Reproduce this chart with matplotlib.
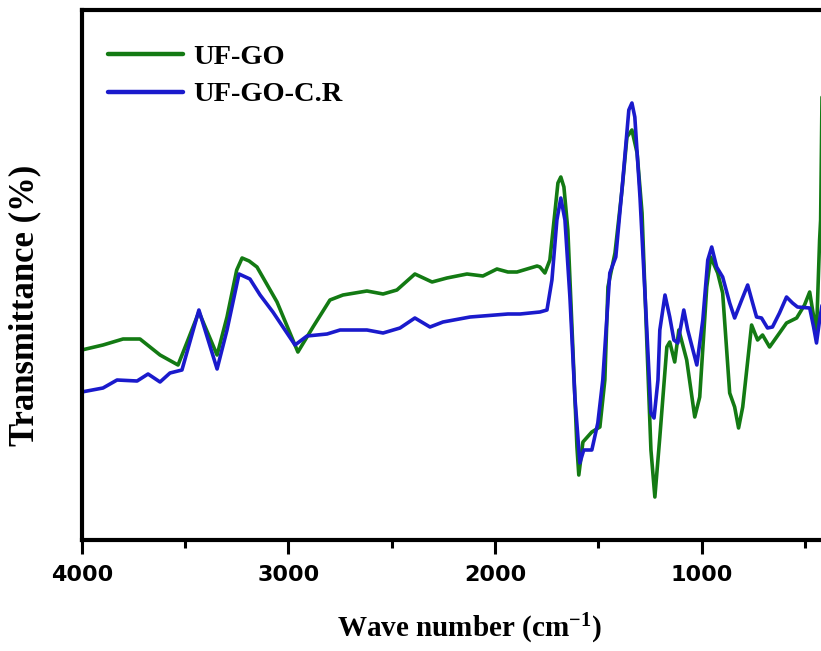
import matplotlib
matplotlib.use("Agg")
import matplotlib.pyplot as plt
from matplotlib.ticker import MultipleLocator

# ---- data (y in arbitrary transmittance units) ----
wn_go = [4000, 3897, 3800, 3718, 3621, 3534, 3486, 3433, 3345, 3297, 3250, 3224, 3190, 3152,
         3055, 2954, 2881, 2799, 2736, 2620, 2542, 2475, 2388, 2305, 2233, 2136,
         2059, 1991, 1938, 1894, 1797,
         1783, 1759, 1735, 1711, 1696, 1682, 1667, 1648, 1624, 1604, 1595, 1575,
         1532, 1493, 1469, 1454, 1420, 1386, 1362, 1338, 1313, 1289, 1265, 1246,
         1227, 1203, 1169, 1155, 1131, 1111, 1073, 1034, 1010, 976, 957, 923, 899,
         865, 841, 822, 802, 759, 730, 706, 672, 624, 590, 541, 503, 478, 464,
         445, 430, 425, 418]
t_go = [190, 195, 201, 201, 185, 175, 200, 228, 185, 223, 270, 282, 279, 273,
        238, 188, 213, 240, 245, 249, 246, 250, 266, 258, 262, 266,
        264, 271, 268, 268, 274,
        273, 267, 280, 327, 357, 363, 353, 310, 193, 93, 65, 98,
        108, 113, 160, 253, 287, 350, 403, 410, 387, 327, 193, 90,
        43, 103, 193, 198, 178, 210, 180, 123, 143, 253, 283, 267, 247,
        147, 133, 112, 133, 215, 200, 205, 193, 207, 217, 222, 235, 248, 230,
        207, 300, 320, 450]

wn_gocr = [4000, 3897, 3829, 3732, 3679, 3621, 3573, 3515, 3433, 3345, 3297, 3239,
           3186, 3137, 3075, 2968, 2910, 2813, 2750, 2620, 2542, 2460, 2388, 2315,
           2252, 2121, 1938, 1879,
           1783, 1749, 1725, 1701, 1682, 1662, 1638, 1614, 1590, 1571, 1532, 1503,
           1479, 1445, 1416, 1382, 1353, 1338, 1324, 1299, 1270, 1246, 1231, 1212,
           1203, 1178, 1155, 1135, 1116, 1087, 1068, 1024, 995, 971, 952, 928, 899,
           865, 841, 807, 778, 754, 735, 711, 682, 658, 624, 590, 561, 537, 478,
           459, 445, 430, 418]
t_gocr = [148, 152, 160, 159, 166, 158, 167, 170, 230, 171, 210, 266,
          261, 245, 228, 195, 204, 206, 210, 210, 207, 212, 222, 213,
          218, 223, 226, 226,
          228, 230, 260, 320, 342, 320, 243, 143, 77, 90, 90, 117,
          160, 267, 283, 360, 430, 437, 423, 343, 227, 127, 122, 160,
          210, 245, 223, 200, 197, 230, 210, 175, 220, 280, 293, 273, 263,
          237, 222, 240, 255, 237, 223, 222, 212, 213, 227, 243, 237, 233, 232,
          213, 197, 220, 235]

labels = ["UF-GO", "UF-GO-C.R"]
major_ticks = [4000, 3000, 2000, 1000]

plt.rcParams["mathtext.fontset"] = "custom"
plt.rcParams["mathtext.rm"] = "Liberation Serif:bold"
plt.rcParams["mathtext.bf"] = "Liberation Serif:bold"
plt.rcParams["mathtext.it"] = "Liberation Serif:bold"

W, H = 821, 651
fig = plt.figure(figsize=(W / 100, H / 100), dpi=100)
left_px, right_px, bottom_px, top_px = 81.7, 825.8, 540, 10
ax = fig.add_axes([left_px / W, (H - bottom_px) / H,
                   (right_px - left_px) / W, (bottom_px - top_px) / H])

green = "#137a13"
blue = "#1a1acc"
ax.plot(wn_go, t_go, color=green, lw=2.6, label=labels[0],
        solid_joinstyle="round", solid_capstyle="round")
ax.plot(wn_gocr, t_gocr, color=blue, lw=2.6, label=labels[1],
        solid_joinstyle="round", solid_capstyle="round")

ax.set_xlim(4000, 400)
ax.set_ylim(0, 530)

for s in ["left", "bottom", "top"]:
    ax.spines[s].set_linewidth(3.0)
ax.spines["right"].set_visible(False)

ax.set_xticks(major_ticks)
ax.xaxis.set_minor_locator(MultipleLocator(500))
ax.tick_params(axis="x", which="major", direction="out", length=10, width=2.2, pad=8)
ax.tick_params(axis="x", which="minor", direction="out", length=6, width=2.2)
ax.set_yticks([])
for lab in ax.get_xticklabels():
    lab.set_fontfamily("DejaVu Sans")
    lab.set_fontweight("bold")
    lab.set_fontsize(16)

fig.text(469 / W, (H - 637) / H, r"Wave number (cm$^{-1}$)", ha="center", va="baseline",
         fontfamily="Liberation Serif", fontweight="bold", fontsize=21)
fig.text(25 / W, (H - 305) / H, "Transmittance (%)", ha="center", va="center",
         rotation=90, fontfamily="Liberation Serif", fontweight="bold", fontsize=25)

leg = ax.legend(loc="upper left", bbox_to_anchor=(0.02, 0.958), frameon=False,
                prop={"family": "Liberation Serif", "weight": "bold", "size": 20.5},
                handlelength=2.65, handletextpad=0.33, labelspacing=0.42,
                borderaxespad=0.0)
for line in leg.get_lines():
    line.set_linewidth(3.2)

fig.savefig("out.png", dpi=100)
